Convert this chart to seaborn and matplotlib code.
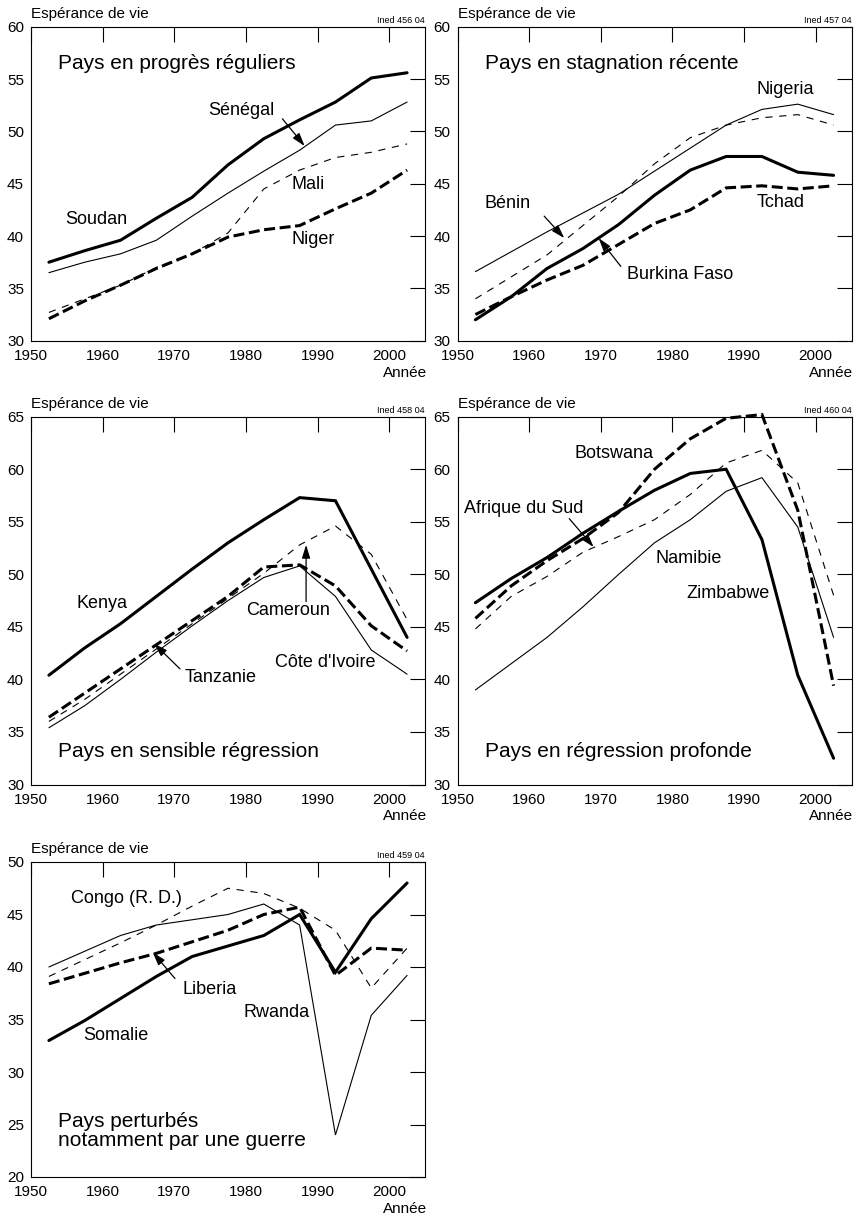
import matplotlib
matplotlib.use("Agg")
import matplotlib.pyplot as plt
import seaborn as sns
import pandas as pd

sns.set_style("white")
plt.rcParams['font.family'] = ['Liberation Sans', 'DejaVu Sans']
plt.rcParams['text.color'] = 'black'
plt.rcParams['axes.labelcolor'] = 'black'
plt.rcParams['xtick.color'] = 'black'
plt.rcParams['ytick.color'] = 'black'

# ---------------- data ----------------
years = [1952.5, 1957.5, 1962.5, 1967.5, 1972.5, 1977.5, 1982.5, 1987.5, 1992.5, 1997.5, 2002.5]
xticks = [1950, 1960, 1970, 1980, 1990, 2000]

# Panel 1 : Pays en progrès réguliers
soudan = [37.5, 38.6, 39.6, 41.7, 43.7, 46.8, 49.3, 51.1, 52.8, 55.1, 55.6]
senegal = [36.5, 37.5, 38.3, 39.6, 41.9, 44.1, 46.2, 48.2, 50.6, 51.0, 52.8]
mali = [32.7, 34.0, 35.3, 37.0, 38.3, 40.3, 44.5, 46.3, 47.5, 48.0, 48.8]
niger = [32.1, 33.8, 35.3, 36.9, 38.3, 39.9, 40.6, 41.0, 42.6, 44.1, 46.3]

# Panel 2 : Pays en stagnation récente
nigeria = [36.6, 38.5, 40.4, 42.2, 44.0, 46.2, 48.4, 50.6, 52.1, 52.6, 51.6]
benin = [34.0, 36.1, 38.2, 41.0, 43.8, 46.9, 49.4, 50.6, 51.3, 51.6, 50.6]
burkina = [32.0, 34.2, 36.9, 38.8, 41.1, 43.9, 46.3, 47.6, 47.6, 46.1, 45.8]
tchad = [32.5, 34.2, 35.8, 37.2, 39.2, 41.2, 42.5, 44.6, 44.8, 44.5, 44.8]

# Panel 3 : Pays en sensible régression
kenya = [40.4, 43.0, 45.3, 47.9, 50.5, 53.0, 55.2, 57.3, 57.0, 50.5, 44.0]
cameroun = [36.0, 38.1, 40.5, 42.9, 45.3, 47.7, 50.1, 52.8, 54.6, 51.9, 45.7]
tanzanie = [36.4, 38.7, 41.0, 43.3, 45.6, 47.9, 50.7, 50.9, 48.9, 45.1, 42.7]
cote_ivoire = [35.4, 37.5, 40.0, 42.6, 45.1, 47.5, 49.7, 50.8, 47.9, 42.8, 40.5]

# Panel 4 : Pays en régression profonde
zimbabwe = [47.3, 49.6, 51.6, 53.9, 56.0, 58.0, 59.6, 60.0, 53.3, 40.4, 32.5]
botswana = [45.8, 48.9, 51.3, 53.4, 55.9, 60.0, 62.9, 64.85, 65.2, 56.1, 39.4]
afrique_sud = [44.8, 47.9, 49.8, 52.1, 53.6, 55.2, 57.6, 60.6, 61.8, 58.7, 48.0]
namibie = [39.0, 41.5, 44.0, 46.9, 50.0, 53.0, 55.2, 57.9, 59.2, 54.5, 44.0]

# Panel 5 : Pays perturbés notamment par une guerre
rwanda = [40.0, 41.5, 43.0, 44.0, 44.5, 45.0, 46.0, 44.0, 24.0, 35.4, 39.2]
congo = [39.1, 40.7, 42.3, 44.0, 45.8, 47.5, 47.0, 45.6, 43.5, 38.0, 41.8]
liberia = [38.4, 39.4, 40.4, 41.3, 42.4, 43.5, 45.0, 45.7, 39.2, 41.8, 41.6]
somalie = [33.0, 34.9, 37.0, 39.1, 41.0, 42.0, 43.0, 45.0, 39.5, 44.6, 48.0]

# ---------------- styles ----------------
STY = {
    'thick': dict(lw=2.2, ls='-'),
    'thin': dict(lw=0.8, ls='-'),
    'thickdash': dict(lw=2.2, ls=(0, (3.6, 1.5))),
    'thindash': dict(lw=0.8, ls=(0, (6.5, 6.0))),
}

W, H = 858, 1218
fig = plt.figure(figsize=(W / 100, H / 100), dpi=100)


def axes_px(left, top, right, bottom):
    return fig.add_axes([left / W, 1 - bottom / H, (right - left) / W, (bottom - top) / H])


panels = [
    dict(box=(31, 26.7, 425, 340.7), ylim=(30, 60), ined='Ined 456 04',
         title=('Pays en progrès réguliers', 1953.7, 56.5),
         series=[(soudan, 'thick'), (senegal, 'thin'), (mali, 'thindash'), (niger, 'thickdash')],
         labels=[('Sénégal', 1974.7, 52.0), ('Soudan', 1954.8, 41.6), ('Mali', 1986.3, 44.9),
                 ('Niger', 1986.3, 39.7)],
         arrows=[((1988.2, 48.6), (1985.1, 51.2))]),
    dict(box=(457.5, 26.7, 851.5, 340.7), ylim=(30, 60), ined='Ined 457 04',
         title=('Pays en stagnation récente', 1953.8, 56.5),
         series=[(nigeria, 'thin'), (benin, 'thindash'), (burkina, 'thick'), (tchad, 'thickdash')],
         labels=[('Nigeria', 1991.7, 54.0), ('Bénin', 1953.8, 43.1), ('Tchad', 1991.8, 43.2),
                 ('Burkina Faso', 1973.6, 36.3)],
         arrows=[((1964.9, 39.8), (1962.1, 41.9)), ((1969.7, 39.8), (1972.8, 37.1))]),
    dict(box=(31, 416.7, 425, 784.5), ylim=(30, 65), ined='Ined 458 04',
         title=('Pays en sensible régression', 1953.7, 33.1),
         series=[(kenya, 'thick'), (cameroun, 'thindash'), (tanzanie, 'thickdash'), (cote_ivoire, 'thin')],
         labels=[('Kenya', 1956.3, 47.2), ('Tanzanie', 1971.4, 40.2), ('Cameroun', 1980.0, 46.6),
                 ("Côte d'Ivoire", 1984.0, 41.6)],
         arrows=[((1967.2, 43.4), (1970.8, 41.0)), ((1988.4, 52.8), (1988.4, 47.4))]),
    dict(box=(457.5, 416.7, 851.5, 784.5), ylim=(30, 65), ined='Ined 460 04',
         title=('Pays en régression profonde', 1953.8, 33.1),
         series=[(zimbabwe, 'thick'), (botswana, 'thickdash'), (afrique_sud, 'thindash'), (namibie, 'thin')],
         labels=[('Botswana', 1966.4, 61.5), ('Afrique du Sud', 1950.9, 56.3), ('Namibie', 1977.7, 51.5),
                 ('Zimbabwe', 1981.9, 48.2)],
         arrows=[((1969.0, 52.6), (1965.6, 55.3))]),
    dict(box=(31, 862, 425, 1177), ylim=(20, 50), ined='Ined 459 04',
         title=('Pays perturbés\nnotamment par une guerre', 1953.7, 24.4),
         series=[(rwanda, 'thin'), (congo, 'thindash'), (liberia, 'thickdash'), (somalie, 'thick')],
         labels=[('Congo (R. D.)', 1955.6, 46.5), ('Liberia', 1971.1, 37.9), ('Rwanda', 1979.7, 35.7),
                 ('Somalie', 1957.3, 33.5)],
         arrows=[((1967.0, 41.4), (1970.1, 38.9))]),
]

for p in panels:
    ax = axes_px(*p['box'])
    for vals, st in p['series']:
        df = pd.DataFrame({'year': years, 'le': vals})
        sns.lineplot(data=df, x='year', y='le', ax=ax, color='black',
                     linewidth=STY[st]['lw'], linestyle=STY[st]['ls'],
                     solid_joinstyle='miter', dash_joinstyle='miter', clip_on=False)
    ax.set_xlim(1950, 2005)
    ax.set_ylim(*p['ylim'])
    ax.set_xticks(xticks)
    ax.set_yticks(list(range(p['ylim'][0], p['ylim'][1] + 1, 5)))
    ax.set_xlabel('')
    ax.set_ylabel('')
    ax.tick_params(direction='in', length=10.5, width=0.8, top=True, right=True,
                   labelsize=11, colors='black')
    ax.tick_params(axis='x', pad=6)
    ax.tick_params(axis='y', pad=5)
    for s in ax.spines.values():
        s.set_linewidth(0.8)
        s.set_color('black')
        s.set_visible(True)
    t, tx, ty = p['title']
    ax.text(tx, ty, t, fontsize=15, ha='left', va='center', linespacing=1.0, color='black')
    for s, x, y in p['labels']:
        ax.text(x, y, s, fontsize=13, ha='left', va='center', color='black')
    for tip, tail in p['arrows']:
        ax.annotate('', xy=tip, xytext=tail,
                    arrowprops=dict(arrowstyle='-|>,head_length=0.8,head_width=0.25',
                                    color='black', lw=0.9, mutation_scale=10,
                                    shrinkA=0, shrinkB=0))
    ax.annotate('Espérance de vie', xy=(0, 1), xycoords='axes fraction',
                xytext=(0, 9), textcoords='offset points', ha='left', va='center', fontsize=11)
    ax.annotate(p['ined'], xy=(1, 1), xycoords='axes fraction',
                xytext=(0, 1.5), textcoords='offset points', ha='right', va='bottom', fontsize=6.5)
    ax.annotate('Année', xy=(1, 0), xycoords='axes fraction',
                xytext=(1.2, -23), textcoords='offset points', ha='right', va='center', fontsize=11)

fig.savefig('out.png', dpi=100, facecolor='white')
